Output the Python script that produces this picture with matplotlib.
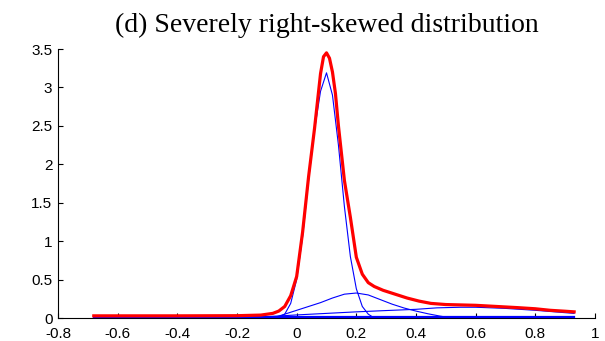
import matplotlib
matplotlib.use("Agg")
import matplotlib.pyplot as plt

# Mixture density (red)
mix_x = [-0.68, -0.40, -0.20, -0.12, -0.08, -0.06, -0.04, -0.02, 0.00, 0.02, 0.04,
         0.06, 0.08, 0.09, 0.10, 0.11, 0.12, 0.13, 0.14, 0.16, 0.18, 0.20, 0.22,
         0.24, 0.26, 0.29, 0.33, 0.37, 0.41, 0.45, 0.50, 0.55, 0.60, 0.67, 0.74,
         0.80, 0.85, 0.90, 0.93]
mix_y = [0.028, 0.028, 0.03, 0.038, 0.06, 0.09, 0.15, 0.29, 0.54, 1.12, 1.84,
         2.47, 3.18, 3.40, 3.45, 3.38, 3.20, 2.92, 2.50, 1.79, 1.31, 0.79, 0.57,
         0.46, 0.41, 0.36, 0.31, 0.26, 0.22, 0.19, 0.175, 0.17, 0.165, 0.15, 0.135,
         0.12, 0.10, 0.088, 0.08]

# Component 1: tall narrow peak
c1_x = [-0.06, -0.04, -0.02, 0.00, 0.02, 0.04, 0.06, 0.08, 0.10, 0.12, 0.14,
        0.16, 0.18, 0.20, 0.22, 0.24, 0.26]
c1_y = [0.01, 0.05, 0.19, 0.50, 1.06, 1.80, 2.45, 2.95, 3.19, 2.90, 2.25,
        1.45, 0.80, 0.38, 0.15, 0.05, 0.0]

# Component 2: broad hump
c2_x = [-0.08, -0.04, 0.00, 0.04, 0.08, 0.12, 0.16, 0.20, 0.24, 0.28, 0.32,
        0.36, 0.40, 0.44, 0.48, 0.52]
c2_y = [0.0, 0.05, 0.10, 0.15, 0.20, 0.26, 0.31, 0.325, 0.30, 0.24, 0.18,
        0.13, 0.09, 0.055, 0.025, 0.0]

# Component 3: low wide component
c3_x = [-0.68, -0.30, -0.10, 0.00, 0.10, 0.20, 0.30, 0.40, 0.47, 0.55, 0.60,
        0.70, 0.80, 0.93]
c3_y = [0.005, 0.008, 0.017, 0.04, 0.06, 0.08, 0.097, 0.113, 0.132, 0.14, 0.14,
        0.125, 0.10, 0.06]

# Component 4: nearly flat component
c4_x = [-0.68, 0.93]
c4_y = [0.01, 0.01]

x_ticks = [-0.8, -0.6, -0.4, -0.2, 0, 0.2, 0.4, 0.6, 0.8, 1]
x_labels = ["-0.8", "-0.6", "-0.4", "-0.2", "0", "0.2", "0.4", "0.6", "0.8", "1"]
y_ticks = [0, 0.5, 1, 1.5, 2, 2.5, 3, 3.5]
y_labels = ["0", "0.5", "1", "1.5", "2", "2.5", "3", "3.5"]
title = "(d) Severely right-skewed distribution"

fig = plt.figure(figsize=(6.05, 3.41), dpi=100)
ax = fig.add_axes([58 / 605, 23 / 341, 537 / 605, 269 / 341])

blue_lw = 0.8
ax.plot(c4_x, c4_y, color="#0000FF", lw=1.6, zorder=3, clip_on=False)
ax.plot(c3_x, c3_y, color="#0000FF", lw=blue_lw, zorder=3)
ax.plot(c2_x, c2_y, color="#0000FF", lw=blue_lw, zorder=3)
ax.plot(c1_x, c1_y, color="#0000FF", lw=blue_lw, zorder=3)
ax.plot(mix_x, mix_y, color="#FF0000", lw=2.3, zorder=4)

ax.set_xlim(-0.8, 1)
ax.set_ylim(0, 3.5)
ax.set_xticks(x_ticks)
ax.set_xticklabels(x_labels)
ax.set_yticks(y_ticks)
ax.set_yticklabels(y_labels)
for s in ("top", "right"):
    ax.spines[s].set_visible(False)
for s in ("left", "bottom"):
    ax.spines[s].set_linewidth(0.8)
    ax.spines[s].set_zorder(2)
ax.tick_params(direction="in", length=3.5, width=0.8, labelsize=11)
ax.tick_params(axis="x", pad=6.5)
ax.tick_params(axis="y", pad=4)
for lab in ax.get_xticklabels() + ax.get_yticklabels():
    lab.set_family("Liberation Sans")

fig.text((58 + 595) / 2 / 605, 1 - 31.7 / 341, title, ha="center", va="baseline",
         family="Liberation Serif", fontsize=20)

fig.savefig("out.png", dpi=100)
